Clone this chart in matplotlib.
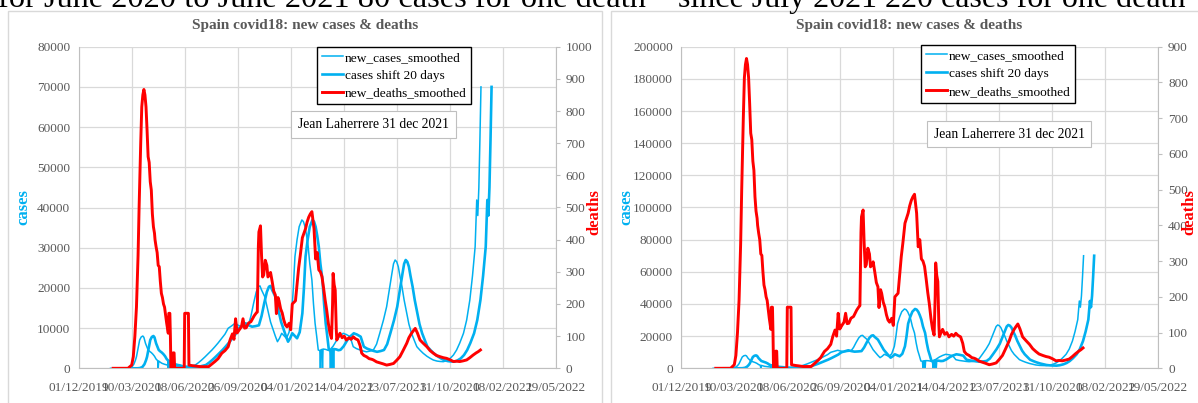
import numpy as np
import matplotlib.pyplot as plt
from matplotlib.patches import Rectangle

plt.rcParams['font.family'] = ['Liberation Serif', 'DejaVu Serif']

# x axis: day number counted from 01/12/2019, one label every 100 days
tick_labels = ['01/12/2019', '10/03/2020', '18/06/2020', '26/09/2020', '04/01/2021',
               '14/04/2021', '23/07/2021', '31/10/2021', '08/02/2022', '19/05/2022']

case_day = [60, 90, 95, 100, 104, 107, 109, 112, 115, 118, 121, 123, 126, 129, 131, 134,
            137, 140, 143, 146, 149, 150, 151, 154, 157, 162, 167, 172, 176, 180, 185, 190,
            195, 200, 205, 210, 215, 220, 226, 232, 238, 245, 251, 257, 263, 270, 276, 282,
            288, 295, 301, 307, 314, 320, 325, 330, 335, 339, 342, 345, 351, 355, 358, 362,
            367, 371, 375, 379, 383, 388, 392, 397, 402, 405, 408, 412, 416, 421, 424, 427,
            430, 433, 436, 440, 443, 446, 449, 452, 455, 456, 457, 459, 460, 461, 466, 470,
            474, 480, 487, 493, 499, 505, 512, 518, 524, 531, 537, 543, 550, 556, 562, 568,
            575, 581, 586, 591, 594, 597, 600, 603, 606, 610, 614, 619, 623, 628, 633, 638,
            644, 650, 657, 663, 669, 676, 682, 688, 694, 701, 707, 713, 719, 726, 732, 738,
            743, 748, 751, 753, 755, 757, 759]
new_cases = [0, 0, 50, 300, 1000, 2000, 2886, 5000, 7040, 7800, 8036, 7700, 6220, 5200, 4553, 4200,
             3900, 3500, 3000, 2300, 1900, 0, 1800, 1500, 1244, 1000, 821, 700, 500, 400, 350, 330,
             350, 400, 450, 500, 650, 821, 1400, 2065, 2800, 3732, 4500, 5374, 6300, 7464, 8500, 9952,
             10500, 11196, 10700, 10350, 10500, 10700, 13000, 16172, 19000, 20300, 20500, 19480, 17814, 15500, 13684, 11500,
             9529, 8000, 6618, 7500, 8708, 8000, 7464, 9000, 13684, 20000, 27766, 32000, 35230, 36900, 36500, 35230,
             33000, 30254, 26000, 21970, 16000, 11196, 8000, 4553, 4400, 0, 4600, 4700, 0, 4800, 4700, 4500,
             4600, 5500, 7040, 8000, 8708, 8400, 7870, 5374, 4900, 4553, 4300, 4100, 4300, 4553, 6000, 8708,
             12000, 15326, 19500, 23636, 26000, 26944, 26500, 25280, 23000, 20300, 17000, 13684, 11000, 8708, 7000, 5374,
             4500, 3732, 3000, 2500, 2065, 1800, 1700, 1650, 1900, 2480, 3300, 4553, 6300, 8708, 12000, 17000,
             23000, 30254, 41870, 38000, 45000, 56800, 70000]
shift_days = 20

death_day = [65, 93, 100, 103, 106, 109, 112, 114, 117, 119, 121, 123, 125, 127, 129, 131,
             133, 135, 137, 139, 141, 143, 144, 146, 148, 150, 152, 154, 156, 158, 160, 162,
             164, 166, 168, 169, 170, 172, 173, 174, 176, 178, 180, 181, 199, 200, 207, 208,
             215, 230, 245, 257, 263, 270, 276, 282, 286, 290, 293, 296, 299, 303, 307, 310,
             313, 316, 320, 325, 331, 335, 337, 339, 340, 343, 345, 347, 349, 352, 355, 357,
             360, 362, 365, 368, 371, 373, 376, 378, 381, 384, 387, 390, 393, 397, 400, 403,
             406, 409, 412, 415, 418, 422, 425, 428, 431, 434, 437, 440, 444, 447, 450, 453,
             456, 459, 462, 465, 468, 471, 474, 477, 479, 480, 482, 484, 486, 487, 490, 493,
             497, 501, 505, 510, 514, 518, 522, 527, 531, 534, 538, 543, 548, 553, 556, 562,
             568, 574, 581, 587, 594, 600, 606, 612, 619, 623, 628, 632, 635, 639, 644, 650,
             657, 663, 669, 675, 682, 688, 694, 700, 707, 713, 719, 725, 732, 738, 744, 750,
             754, 758]
new_deaths = [0, 0, 10, 36, 100, 191, 350, 502, 700, 813, 850, 867, 850, 813, 740, 658,
              640, 580, 554, 480, 440, 420, 400, 378, 360, 320, 316, 270, 233, 220, 200, 190,
              165, 140, 120, 109, 171, 171, 100, 0, 0, 48, 48, 0, 0, 171, 171, 10,
              8, 5, 5, 21, 30, 47, 55, 67, 90, 107, 90, 154, 110, 120, 129, 154,
              125, 126, 140, 145, 163, 172, 175, 380, 424, 443, 350, 284, 290, 336, 320, 284,
              290, 298, 270, 240, 228, 170, 220, 210, 185, 172, 150, 135, 129, 140, 120, 200,
              205, 210, 260, 312, 350, 406, 420, 434, 455, 470, 480, 487, 434, 340, 360, 306,
              300, 285, 250, 212, 180, 140, 110, 93, 200, 295, 260, 243, 120, 88, 100, 109,
              95, 100, 88, 95, 90, 98, 92, 88, 70, 47, 40, 36, 30, 28, 26, 20,
              17, 14, 10, 12, 15, 25, 36, 55, 78, 95, 109, 118, 124, 110, 88, 78,
              67, 55, 47, 40, 36, 33, 31, 27, 21, 22, 21, 23, 26, 33, 41, 48,
              52, 57]

BLUE = '#00B0F0'
RED = '#FF0000'
GRID = '#D9D9D9'
AXIS = '#BFBFBF'
GRAY = '#595959'
W, H = 1198, 403

fig = plt.figure(figsize=(W / 100, H / 100), dpi=100)

# cut-off headline above the two charts
fig.text(646 / W, 1 - 7 / H, 'for June 2020 to June 2021 80 cases for one death',
         ha='right', va='baseline', fontsize=23.3, color='black')
fig.text(678 / W, 1 - 7 / H, 'since July 2021 220 cases for one death',
         ha='left', va='baseline', fontsize=23, color='black')


def drawPanel(left_px, box, cases_max, cases_step, deaths_max, legend_px, note_px, deaths_x):
    # chart frame
    fig.add_artist(Rectangle((box[0] / W, -0.1), (box[1] - box[0]) / W, 1.1 - 10.5 / H,
                             transform=fig.transFigure, fill=False, edgecolor=GRID, lw=1))
    rect = [left_px / W, 1 - 368.3 / H, 477 / W, 321.6 / H]
    ax = fig.add_axes(rect)
    ax2 = ax.twinx()

    l1, = ax.plot(case_day, new_cases, color=BLUE, lw=1.1)
    l2, = ax.plot(np.array(case_day) + shift_days, new_cases, color=BLUE, lw=1.9)
    l3, = ax2.plot(death_day, new_deaths, color=RED, lw=2.1)

    ax.set_xlim(0, 900)
    ax.set_xticks(range(0, 901, 100))
    ax.set_xticklabels(tick_labels)
    ax.set_ylim(0, cases_max)
    ax.set_yticks(np.arange(0, cases_max + 1, cases_step))
    ax2.set_ylim(0, deaths_max)
    ax2.set_yticks(np.arange(0, deaths_max + 1, 100))

    ax.grid(True, color=GRID, lw=0.9)
    ax.set_axisbelow(True)
    ax.spines['top'].set_visible(False)
    ax.spines['right'].set_visible(False)
    ax2.spines['top'].set_visible(False)
    ax2.spines['left'].set_visible(False)
    ax2.spines['bottom'].set_visible(False)
    ax.spines['left'].set_color(AXIS)
    ax.spines['bottom'].set_color(AXIS)
    ax2.spines['right'].set_color(AXIS)
    ax.tick_params(axis='y', length=0, pad=6, labelsize=9.5, labelcolor=GRAY)
    ax.tick_params(axis='x', length=0, pad=10, labelsize=9.5, labelcolor=GRAY)
    ax2.tick_params(axis='y', length=3, width=0.8, color=AXIS, pad=4, labelsize=9.5,
                    labelcolor=GRAY)

    cx = (box[0] + min(box[1], W + 10)) / 2
    fig.text(cx / W, 1 - 25 / H, 'Spain covid18: new cases & deaths', ha='center',
             va='center', fontsize=11, fontweight='bold', color=GRAY)
    fig.text((left_px - 55) / W, 1 - 207 / H, 'cases', rotation=90, ha='center',
             va='center', fontsize=12, fontweight='bold', color=BLUE)
    fig.text(deaths_x / W, 1 - 212 / H, 'deaths', rotation=90, ha='center',
             va='center', fontsize=12, fontweight='bold', color=RED)

    leg = ax2.legend([l1, l2, l3], ['new_cases_smoothed', 'cases shift 20 days',
                                    'new_deaths_smoothed'],
                     loc='upper left', bbox_to_anchor=(legend_px[0] / W, 1 - legend_px[1] / H),
                     bbox_transform=fig.transFigure, fancybox=False, framealpha=1,
                     edgecolor='black', fontsize=9.6, handlelength=1.6, handletextpad=0.15,
                     borderpad=0.35, labelspacing=0.42, borderaxespad=0)
    leg.get_frame().set_linewidth(1)
    fig.text(note_px[0] / W, 1 - note_px[1] / H, 'Jean Laherrere 31 dec 2021', ha='center',
             va='center', fontsize=9.8,
             bbox=dict(boxstyle='square,pad=0.5', fc='white', ec=AXIS, lw=0.8))


drawPanel(78.7, (7.5, 602), 80000, 10000, 1000, (317, 46.7), (373.5, 124.5), 594)
drawPanel(681.3, (610.5, 1230), 200000, 20000, 900, (921, 45), (1009, 134), 1189)

fig.savefig('out.png', dpi=100)
